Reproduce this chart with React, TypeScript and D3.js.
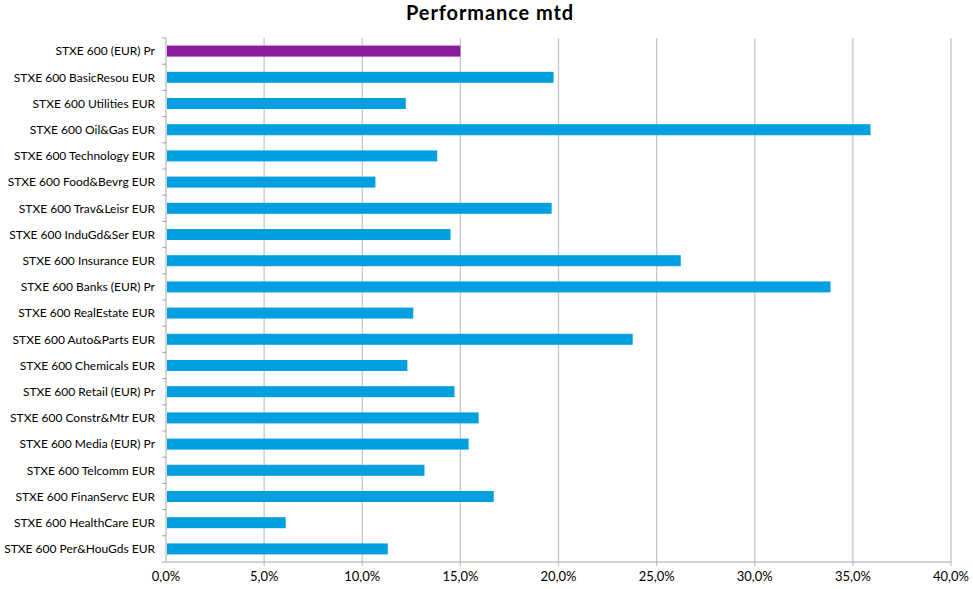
import React, { useEffect, useRef } from 'react';
import * as d3 from 'd3';

const categories = [
  'STXE 600 (EUR) Pr',
  'STXE 600 BasicResou EUR',
  'STXE 600 Utilities EUR',
  'STXE 600 Oil&Gas EUR',
  'STXE 600 Technology EUR',
  'STXE 600 Food&Bevrg EUR',
  'STXE 600 Trav&Leisr EUR',
  'STXE 600 InduGd&Ser EUR',
  'STXE 600 Insurance EUR',
  'STXE 600 Banks (EUR) Pr',
  'STXE 600 RealEstate EUR',
  'STXE 600 Auto&Parts EUR',
  'STXE 600 Chemicals EUR',
  'STXE 600 Retail (EUR) Pr',
  'STXE 600 Constr&Mtr EUR',
  'STXE 600 Media (EUR) Pr',
  'STXE 600 Telcomm EUR',
  'STXE 600 FinanServc EUR',
  'STXE 600 HealthCare EUR',
  'STXE 600 Per&HouGds EUR',
];

// performance month-to-date, in percent
const performance = [
  15.0, 19.75, 12.22, 35.9, 13.82, 10.67, 19.65, 14.5, 26.23, 33.86,
  12.6, 23.78, 12.3, 14.7, 15.93, 15.42, 13.17, 16.7, 6.1, 11.3,
];

const xTicks = [0, 5, 10, 15, 20, 25, 30, 35, 40];

const W = 973;
const H = 589;
const FONT = 'Lato, Carlito, "Open Sans", sans-serif';

const App: React.FC = () => {
  const svgRef = useRef<SVGSVGElement>(null);

  useEffect(() => {
    if (!svgRef.current) return;
    const svg = d3.select(svgRef.current);
    svg.selectAll('*').remove();

    const margin = { top: 38, right: 22, bottom: 27, left: 166 };
    const width = W - margin.left - margin.right;
    const height = H - margin.top - margin.bottom;

    svg.append('rect').attr('width', W).attr('height', H).attr('fill', '#fff');

    // Title
    svg.append('text')
      .attr('x', 490)
      .attr('y', 20)
      .attr('text-anchor', 'middle')
      .attr('font-family', FONT)
      .attr('font-weight', 'bold')
      .attr('font-size', 20)
      .attr('letter-spacing', 0.9)
      .attr('fill', '#000')
      .text('Performance mtd');

    const g = svg.append('g')
      .attr('transform', `translate(${margin.left},${margin.top})`);

    const x = d3.scaleLinear().domain([0, 40]).range([0, width]);
    const y = d3.scaleBand<string>()
      .domain(categories)
      .range([0, height])
      .paddingInner(0.58)
      .paddingOuter(0.29);

    // Gridlines
    g.selectAll('.grid')
      .data(xTicks.filter(t => t > 0))
      .enter()
      .append('line')
      .attr('x1', d => x(d))
      .attr('x2', d => x(d))
      .attr('y1', 0)
      .attr('y2', height + 4)
      .attr('stroke', '#c6c6c6')
      .attr('stroke-width', 1.3);

    // Bars
    g.selectAll('.bar')
      .data(categories)
      .enter()
      .append('rect')
      .attr('x', 1)
      .attr('y', d => y(d) || 0)
      .attr('width', (_d, i) => x(performance[i]) - 1)
      .attr('height', y.bandwidth())
      .attr('fill', (_d, i) => (i === 0 ? '#8a1b9e' : '#009fdf'));

    // Axis lines
    g.append('line')
      .attr('x1', 0).attr('x2', 0)
      .attr('y1', 0).attr('y2', height)
      .attr('stroke', '#a6a6a6');
    g.append('line')
      .attr('x1', 0).attr('x2', width)
      .attr('y1', height).attr('y2', height)
      .attr('stroke', '#a6a6a6');

    // Category boundary ticks on the left axis
    const step = y.step();
    g.selectAll('.ytick')
      .data(d3.range(categories.length + 1))
      .enter()
      .append('line')
      .attr('x1', -4)
      .attr('x2', 0)
      .attr('y1', i => i * step)
      .attr('y2', i => i * step)
      .attr('stroke', '#a6a6a6');

    // Category labels
    g.selectAll('.ylabel')
      .data(categories)
      .enter()
      .append('text')
      .attr('x', -11)
      .attr('y', d => (y(d) || 0) + y.bandwidth() / 2)
      .attr('dy', '0.35em')
      .attr('text-anchor', 'end')
      .attr('font-family', FONT)
      .attr('font-size', 12)
      .attr('fill', '#000')
      .text(d => d);

    // X tick labels
    g.selectAll('.xlabel')
      .data(xTicks)
      .enter()
      .append('text')
      .attr('x', d => x(d))
      .attr('y', height + 19)
      .attr('text-anchor', 'middle')
      .attr('font-family', FONT)
      .attr('font-size', 13)
      .attr('fill', '#000')
      .text(d => d3.format('.1f')(d).replace('.', ',') + '%');
  }, []);

  return <svg ref={svgRef} width={W} height={H} style={{ display: 'block', position: 'absolute', left: 0, top: 0 }} />;
};

export default App;
